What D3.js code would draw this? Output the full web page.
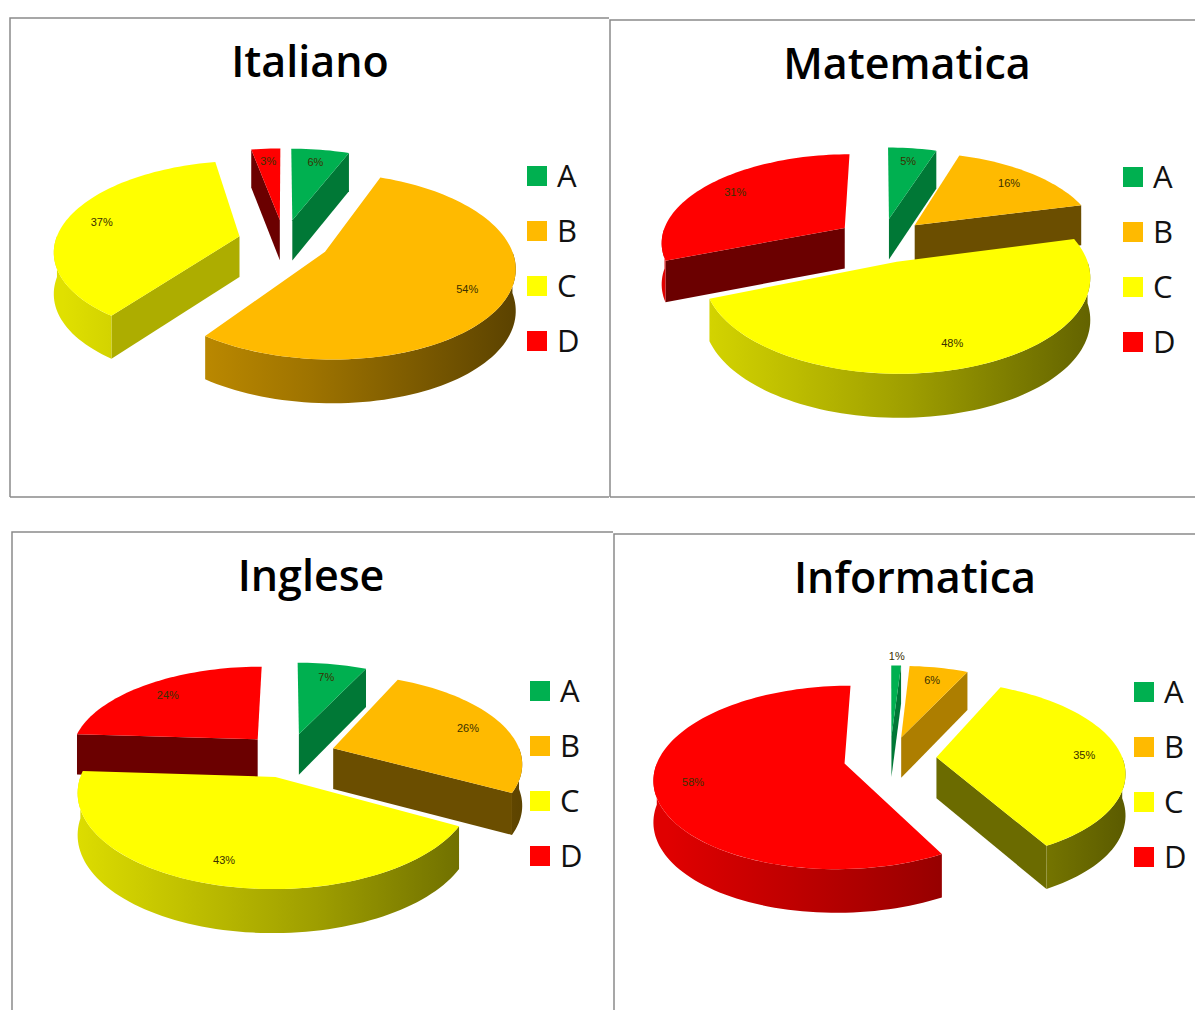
<!DOCTYPE html>
<html><head><meta charset="utf-8">
<script src="https://cdn.jsdelivr.net/npm/d3@7/dist/d3.min.js"></script>
<style>html,body{margin:0;padding:0;background:#fff}svg{display:block}</style>
</head><body><svg id="c" width="1195" height="1010"></svg>
<script>
const grades = ["A","B","C","D"];
const gradeColors = ["#00B050","#FFBA00","#FFFF00","#FF0000"];
const italiano = [6,54,37,3];
const matematica = [5,16,48,31];
const inglese = [7,26,43,24];
const informatica = [1,6,35,58];

const charts = [
 {title:"Italiano",values:italiano,box:[10,18,609,497],bottom:true,titleX:310,titleY:77,cx:284,cy:241,rx:184,legendX:527,legendY:176},
 {title:"Matematica",values:matematica,box:[610,20,1200,497],bottom:true,titleX:907,titleY:79,cx:882,cy:240,rx:184,legendX:1123,legendY:177},
 {title:"Inglese",values:inglese,box:[12,532,613,1015],bottom:false,titleX:311,titleY:591,cx:289,cy:755,rx:188,legendX:530,legendY:691},
 {title:"Informatica",values:informatica,box:[614,534,1200,1015],bottom:false,titleX:915,titleY:593,cx:890,cy:758,rx:186,legendX:1134,legendY:692}
];
const RY=88, K=0.15, DEPTH=41, DEPTH_TAPER=0.06, EXPLODE=0.25, LABEL_R=0.8;
const svg=d3.select("#c"), defs=svg.append("defs");
const pie=d3.pie().sort(null).value(d=>d);
const shade=(c,f)=>{const r=d3.rgb(c);return d3.rgb(r.r*f,r.g*f,r.b*f).formatHex();};
let gid=0;
function wallGradient(color,x0,x1){
  const id="g"+(gid++);
  const g=defs.append("linearGradient").attr("id",id).attr("gradientUnits","userSpaceOnUse")
    .attr("x1",x0).attr("x2",x1).attr("y1",0).attr("y2",0);
  [[0,.88],[.55,.62],[1,.36]].forEach(([o,f])=>g.append("stop").attr("offset",o).attr("stop-color",shade(color,f)));
  return `url(#${id})`;
}
const line=d3.line().x(d=>d[0]).y(d=>d[1]);
charts.forEach(ch=>{
  const [x0,y0,x1,y1]=ch.box, g=svg.append("g"), RX=ch.rx;
  const frame=d3.path();
  frame.moveTo(x0,y1);frame.lineTo(x0,y0);frame.lineTo(x1,y0);
  g.append("path").attr("d",frame.toString()).attr("fill","none").attr("stroke","#8a8a8a").attr("stroke-width",1.5);
  if(ch.bottom) g.append("line").attr("x1",x0).attr("x2",x1).attr("y1",y1).attr("y2",y1).attr("stroke","#8a8a8a").attr("stroke-width",1.5);
  g.append("text").attr("x",ch.titleX).attr("y",ch.titleY).attr("text-anchor","middle")
    .attr("font-family","'Open Sans',sans-serif").attr("font-weight",600).attr("font-size",43).attr("fill","#000").text(ch.title);

  const arcs=pie(ch.values).map((a,i)=>({...a,i,mid:(a.startAngle+a.endAngle)/2}));
  const proj=(a,px,py,down)=>{const ox=EXPLODE*Math.sin(a.mid),oy=EXPLODE*Math.cos(a.mid);
    const X=ox+px,Y=oy+py,w=1+K*Y;
    return [ch.cx+RX*X/w, ch.cy-RY*Y/w+(down?DEPTH*(1-DEPTH_TAPER*Y):0)];};
  const arcPts=(a,t0,t1,down)=>{const n=Math.max(3,Math.ceil((t1-t0)*30));
    return d3.range(n+1).map(j=>{const t=t0+(t1-t0)*j/n;
      return proj(a,Math.sin(t),Math.cos(t),down);});};
  const order=arcs.slice().sort((p,q)=>Math.cos(q.mid)-Math.cos(p.mid));
  const pg=g.append("g");
  order.forEach(a=>{
    const color=gradeColors[a.i], s=a.startAngle, e=a.endAngle;
    const top=arcPts(a,s,e,false), c0=proj(a,0,0,false), c1=proj(a,0,0,true);
    const wall=(t,nx)=>{const p=proj(a,Math.sin(t),Math.cos(t),false),q=proj(a,Math.sin(t),Math.cos(t),true);
      pg.append("path").attr("d",line([c0,p,q,c1])+"Z").attr("fill",shade(color,nx>0.5?.68:.42));};
    // only the walls that face the viewer
    if(Math.sin(s)<-1e-6) wall(s,-Math.cos(s));
    if(Math.sin(e)>1e-6) wall(e,Math.cos(e));
    const a0=Math.max(s,Math.PI/2), a1=Math.min(e,3*Math.PI/2);
    if(a0<a1){
      const tv=arcPts(a,a0,a1,false), bv=arcPts(a,a0,a1,true);
      pg.append("path").attr("d",line(tv.concat(bv.slice().reverse()))+"Z")
        .attr("fill",wallGradient(color,ch.cx-RX*1.2,ch.cx+RX*1.25));
    }
    pg.append("path").attr("d",line([c0,...top])+"Z").attr("fill",color);
  });
  arcs.forEach(a=>{
    const r=a.value<=1?1.16:LABEL_R;
    const p=proj(a,r*Math.sin(a.mid),r*Math.cos(a.mid),false);
    g.append("text").attr("x",p[0]).attr("y",p[1]+4).attr("text-anchor","middle")
      .attr("font-family","'Liberation Sans',sans-serif").attr("font-size",11).attr("fill","#3a3000")
      .text(a.value+"%");
  });
  grades.forEach((t,i)=>{
    const y=ch.legendY+i*55;
    g.append("rect").attr("x",ch.legendX).attr("y",y-10).attr("width",20).attr("height",20).attr("fill",gradeColors[i]);
    g.append("text").attr("x",ch.legendX+30).attr("y",y+11).attr("font-family","'Open Sans',sans-serif")
      .attr("font-size",31).attr("fill","#111").text(t);
  });
});
</script></body></html>
